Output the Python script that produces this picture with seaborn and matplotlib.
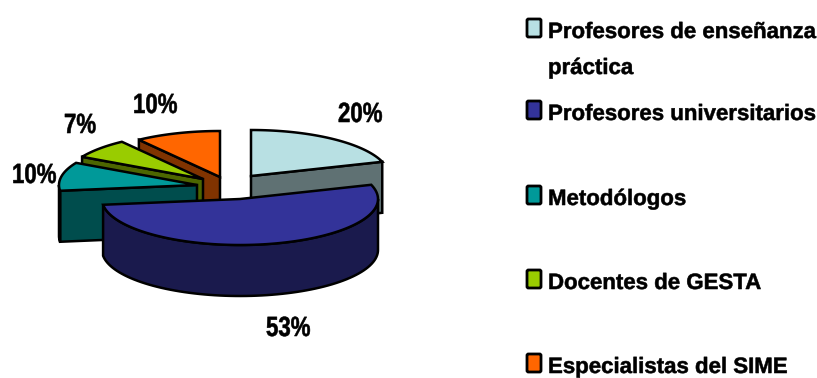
import numpy as np
import matplotlib
matplotlib.use("Agg")
import matplotlib.pyplot as plt
import matplotlib.patheffects as pe
from matplotlib.patches import Polygon, FancyBboxPatch
from matplotlib.transforms import Affine2D
import seaborn as sns

# ---- data ----
categories = ["Profesores de enseñanza\npráctica", "Profesores universitarios",
              "Metodólogos", "Docentes de GESTA", "Especialistas del SIME"]
values = [20, 53, 10, 7, 10]
top_colors = ["#B8E0E3", "#333399", "#009999", "#99CC00", "#FF6600"]
side_colors = ["#5F7173", "#1A1A4D", "#004D4D", "#4D6600", "#803300"]

# ---- layout (pixels) ----
apexes = [(251, 176), (240, 199), (197, 185), (203, 179), (220, 177)]
label_pos = [(338, 122), (266, 336), (12, 183), (64, 133), (133, 113)]
legend_baselines = [38, 120, 205, 289, 373]
RX, RY, DEPTH = 138, 46, 51
LAB_SX = 0.8

sns.set_theme(style="white")
plt.rcParams["font.family"] = ["Liberation Sans", "DejaVu Sans"]


class Narrow(pe.AbstractPathEffect):
    """Condense glyphs horizontally about the text origin and thicken them slightly."""
    def __init__(self, sx, stroke=0.4):
        super().__init__()
        self.sx = sx
        self.stroke = stroke

    def draw_path(self, renderer, gc, tpath, affine, rgbFace=None):
        g = renderer.new_gc()
        g.copy_properties(gc)
        g.set_linewidth(self.stroke)
        g.set_foreground("black")
        renderer.draw_path(g, tpath, Affine2D().scale(self.sx, 1) + affine, rgbFace)
        g.restore()


fig = plt.figure(figsize=(8.17, 3.78), dpi=100)
ax = fig.add_axes([0, 0, 1, 1])
ax.set_xlim(0, 817)
ax.set_ylim(378, 0)
ax.axis("off")

sweeps = np.array(values) / sum(values) * 360
ends = np.cumsum(sweeps)
starts = ends - sweeps


def rim(c, a):
    a = np.radians(a)
    return np.column_stack([c[0] + RX * np.sin(a), c[1] - RY * np.cos(a)])


def face(pts, color, z):
    ax.add_patch(Polygon(pts, closed=True, fc=color, ec="black", lw=1.8,
                         joinstyle="miter", zorder=z))


def down(pts):
    return pts + np.array([0, DEPTH])


for order, i in enumerate([0, 4, 3, 2, 1]):  # back slices first, blue in front
    a0, a1, c = starts[i], ends[i], apexes[i]
    z = 2 + order
    capex = np.array([c], dtype=float)
    for ang, vis in ((a0, np.sin(np.radians(a0)) < -1e-6), (a1, np.sin(np.radians(a1)) > 1e-6)):
        if vis:
            edge = np.vstack([capex, rim(c, [ang])])
            face(np.vstack([edge, down(edge)[::-1]]), side_colors[i], z)
    lo, hi = max(a0, 90), min(a1, 270)
    if hi > lo:
        arc = rim(c, np.linspace(lo, hi, 80))
        face(np.vstack([arc, down(arc)[::-1]]), side_colors[i], z)
    top = np.vstack([capex, rim(c, np.linspace(a0, a1, 100))])
    face(top, top_colors[i], z + 0.5)

for v, (x, y) in zip(values, label_pos):
    ax.text(x, y, f"{v}%", fontsize=20, fontweight="bold", color="black", ha="left",
            va="baseline", zorder=10, path_effects=[Narrow(LAB_SX)])

for name, color, base in zip(categories, top_colors, legend_baselines):
    ax.add_patch(FancyBboxPatch((527, base - 19), 14, 18, boxstyle="round,pad=0,rounding_size=1.5",
                                fc=color, ec="black", lw=2, zorder=10))
    for j, line in enumerate(name.split("\n")):
        ax.text(548, base + j * 36, line, fontsize=16, fontweight="bold", color="black",
                ha="left", va="baseline", zorder=10, path_effects=[Narrow(1.0)])

fig.savefig("out.png", dpi=100, facecolor="white")
